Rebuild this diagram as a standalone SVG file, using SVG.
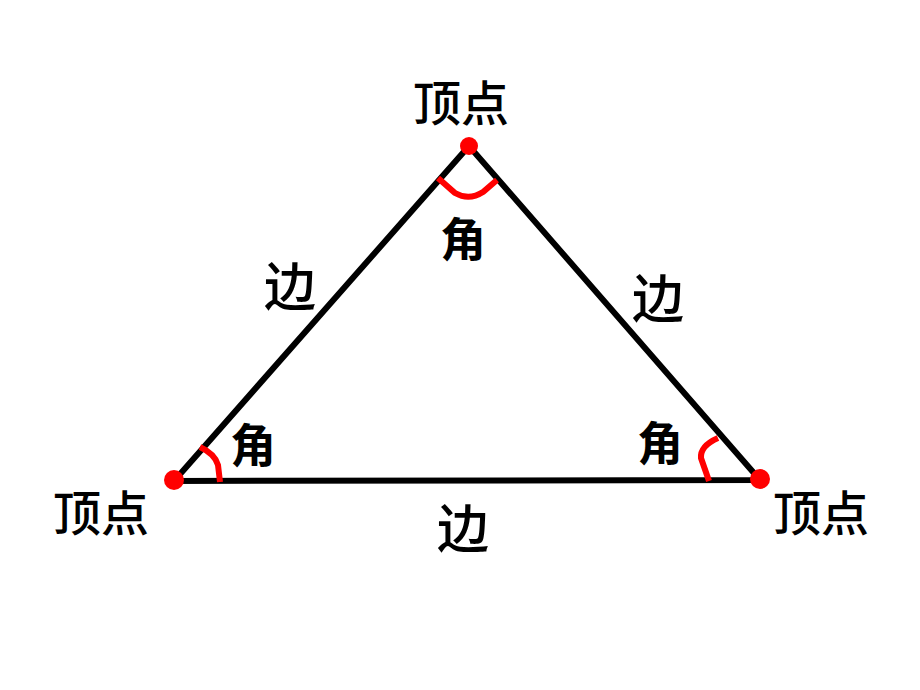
<svg xmlns="http://www.w3.org/2000/svg" width="920" height="690" viewBox="0 0 920 690">
<style>
.t{font-family:"Noto Sans CJK SC","Noto Sans",sans-serif;fill:#000;text-anchor:middle}
.v{font-size:48px;font-weight:500}
.e{font-size:52px;font-weight:500}
.a{font-size:46px;font-weight:bold}
.arc{fill:none;stroke:#f00;stroke-width:6;stroke-linecap:butt}
</style>
<rect width="920" height="690" fill="#fff"/>
<g id="connectors">
<path d="M469,146 L174,481 L760,480 Z" fill="none" stroke="#000" stroke-width="6" stroke-linejoin="miter"/>
</g>
<g id="vertex-top"><circle cx="469" cy="146" r="9" fill="#f00"/><text class="t v" x="461" y="121">顶点</text></g>
<g id="vertex-left"><circle cx="174" cy="480" r="10" fill="#f00"/><text class="t v" x="101" y="531">顶点</text></g>
<g id="vertex-right"><circle cx="760" cy="479" r="10" fill="#f00"/><text class="t v" x="821" y="531">顶点</text></g>
<g id="edge-left"><text class="t e" x="290" y="306">边</text></g>
<g id="edge-right"><text class="t e" x="658" y="318">边</text></g>
<g id="edge-bottom"><text class="t e" x="463" y="548">边</text></g>
<g id="angle-top"><path class="arc" d="M438,178 L455,193 Q469,201 483,192 L497,180"/><text class="t a" x="463" y="256">角</text></g>
<g id="angle-left"><path class="arc" d="M200,447 Q215,454 218,465 L220,482"/><text class="t a" x="253" y="462">角</text></g>
<g id="angle-right"><path class="arc" d="M718,438 Q700,446 701,458 L709,481"/><text class="t a" x="660" y="460">角</text></g>
</svg>
